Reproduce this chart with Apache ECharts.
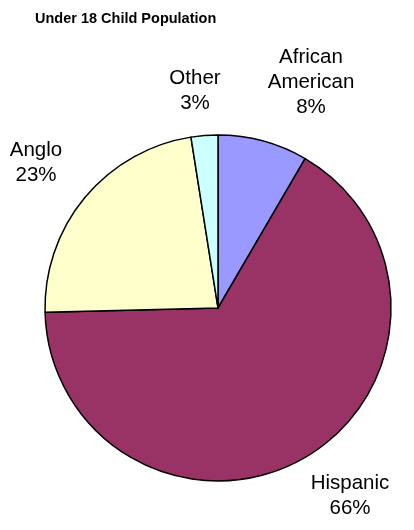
<!DOCTYPE html>
<html>
<head>
<meta charset="utf-8">
<script src="https://cdn.jsdelivr.net/npm/echarts@6/dist/echarts.min.js"></script>
<style>
html,body{margin:0;padding:0;background:#fff;}
#chart{width:414px;height:530px;}
</style>
</head>
<body>
<div id="chart"></div>
<script>
var categories = ['African\nAmerican', 'Hispanic', 'Anglo', 'Other'];
var values = [8.4, 66.2, 22.9, 2.5];
var colors = ['#9999FF', '#993366', '#FFFFCC', '#CCFFFF'];
var titleText = 'Under 18 Child Population';

// label anchor positions (layout only)
var labelPos = [[311, 82], [350, 496], [36, 163], [195, 91]];

var chart = echarts.init(document.getElementById('chart'), null, {renderer: 'canvas'});
var font = '"Liberation Sans", Arial, sans-serif';
chart.setOption({
  animation: false,
  title: {
    text: titleText,
    left: 30,
    top: 6,
    textStyle: {fontFamily: font, fontSize: 14.5, fontWeight: 'bold', color: '#000'}
  },
  series: [{
    type: 'pie',
    center: [218, 308],
    radius: [0, 173],
    startAngle: 90,
    clockwise: true,
    avoidLabelOverlap: false,
    data: categories.map(function (c, i) {
      return {name: c, value: values[i], itemStyle: {color: colors[i]}};
    }),
    itemStyle: {borderColor: '#000', borderWidth: 1.5},
    label: {
      show: true,
      position: 'outside',
      fontFamily: font,
      fontSize: 20.5,
      lineHeight: 25,
      color: '#000',
      align: 'center',
      formatter: function (p) { return p.name + '\n' + Math.round(p.percent) + '%'; }
    },
    labelLine: {show: false},
    labelLayout: function (p) {
      var pos = labelPos[p.dataIndex];
      return {x: pos[0], y: pos[1], align: 'center', verticalAlign: 'middle', hideOverlap: false};
    },
    emphasis: {disabled: true}
  }]
});
</script>
</body>
</html>
